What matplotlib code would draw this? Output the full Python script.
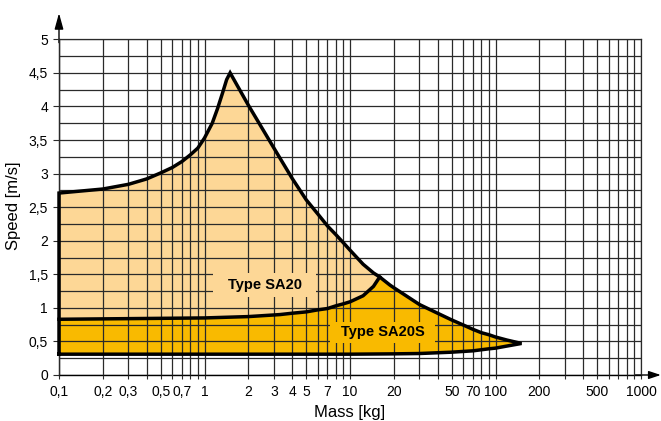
import matplotlib
matplotlib.use("Agg")
import matplotlib.pyplot as plt
from matplotlib.patches import Rectangle, FancyArrowPatch
from matplotlib.ticker import FixedLocator, FixedFormatter, NullLocator
import numpy as np

plt.rcParams['font.family'] = ['Liberation Sans', 'DejaVu Sans']

# ---- data ----
# SA20 upper envelope (mass kg, speed m/s)
sa20_top_mass = [0.1, 0.2, 0.3, 0.4, 0.5, 0.6, 0.7, 0.8, 0.9, 1.0, 1.13, 1.23, 1.33, 1.42, 1.5,
                 2, 3, 4, 5, 6, 7, 8, 9, 10, 12.3, 14.5, 16]
sa20_top_speed = [2.71, 2.77, 2.84, 2.92, 3.01, 3.09, 3.18, 3.28, 3.38, 3.53, 3.75, 3.97, 4.20, 4.40, 4.5,
                  4.02, 3.38, 2.93, 2.61, 2.40, 2.22, 2.09, 1.97, 1.86, 1.65, 1.52, 1.46]
# boundary between SA20 and SA20S
boundary_mass = [0.1, 1, 2, 3.3, 4, 5, 6, 7, 8, 9, 10, 12.3, 14.5, 16]
boundary_speed = [0.83, 0.85, 0.87, 0.90, 0.92, 0.94, 0.97, 0.99, 1.03, 1.06, 1.09, 1.18, 1.32, 1.46]
# SA20S upper envelope
sa20s_top_mass = [16, 18.8, 20, 30, 40, 50, 60, 70, 80, 90, 100, 120, 151]
sa20s_top_speed = [1.46, 1.34, 1.30, 1.05, 0.92, 0.82, 0.745, 0.68, 0.63, 0.60, 0.566, 0.52, 0.47]
# lower envelope (from tip back to left)
bottom_mass = [151, 119, 100, 90, 70, 50, 30, 20, 10, 0.1]
bottom_speed = [0.47, 0.43, 0.40, 0.39, 0.36, 0.34, 0.32, 0.315, 0.31, 0.31]

x_tick_values = [0.1, 0.2, 0.3, 0.5, 0.7, 1, 2, 3, 4, 5, 7, 10, 20, 50, 70, 100, 200, 500, 1000]
x_tick_labels = ["0,1", "0,2", "0,3", "0,5", "0,7", "1", "2", "3", "4", "5", "7", "10",
                 "20", "50", "70", "100", "200", "500", "1000"]
y_tick_values = [0, 0.5, 1, 1.5, 2, 2.5, 3, 3.5, 4, 4.5, 5]
y_tick_labels = ["0", "0,5", "1", "1,5", "2", "2,5", "3", "3,5", "4", "4,5", "5"]

color_sa20 = '#FDD796'
color_sa20s = '#F9BA00'

fig = plt.figure(figsize=(6.61, 4.21), dpi=100)
ax = fig.add_axes([59/661, 1 - 375/421, 582/661, 335.7/421])
ax.set_xscale('log')
ax.set_xlim(0.1, 1000)
ax.set_ylim(0, 5)

# fills
poly_sa20_x = sa20_top_mass + boundary_mass[::-1]
poly_sa20_y = sa20_top_speed + boundary_speed[::-1]
ax.fill(poly_sa20_x, poly_sa20_y, color=color_sa20, lw=0, zorder=1)
poly_sa20s_x = boundary_mass + sa20s_top_mass[1:] + bottom_mass[1:]
poly_sa20s_y = boundary_speed + sa20s_top_speed[1:] + bottom_speed[1:]
ax.fill(poly_sa20s_x, poly_sa20s_y, color=color_sa20s, lw=0, zorder=1)

# grid
grid_x = [m * 10.0**e for e in range(-1, 3) for m in range(1, 10)] + [1000]
grid_y = list(np.arange(0, 5.01, 0.25))
ax.xaxis.set_major_locator(FixedLocator(grid_x))
lab_map = dict(zip(x_tick_values, x_tick_labels))
ax.xaxis.set_major_formatter(FixedFormatter([lab_map.get(round(v, 6), "") for v in grid_x]))
ax.xaxis.set_minor_locator(NullLocator())
ax.yaxis.set_major_locator(FixedLocator(grid_y))
ylab_map = dict(zip(y_tick_values, y_tick_labels))
ax.yaxis.set_major_formatter(FixedFormatter([ylab_map.get(round(v, 3), "") for v in grid_y]))
ax.set_axisbelow(False)
ax.grid(True, which='major', color='#2a2a2a', lw=0.9)

ax.tick_params(axis='x', length=3, width=0.8, pad=4, labelsize=10, color='#2a2a2a')
ax.tick_params(axis='y', length=4, width=0.8, pad=4, labelsize=10, color='#2a2a2a')
# hide y ticks at quarter positions
for t, v in zip(ax.yaxis.get_major_ticks(), grid_y):
    if round(v, 3) not in ylab_map:
        t.tick1line.set_visible(False)

for s in ['top', 'right']:
    ax.spines[s].set_color('#2a2a2a')
    ax.spines[s].set_linewidth(0.9)
for s in ['left', 'bottom']:
    ax.spines[s].set_color('black')
    ax.spines[s].set_linewidth(1.0)

# label boxes
ax.add_patch(Rectangle((1.14, 1.16), 5.84 - 1.14, 1.52 - 1.16, facecolor=color_sa20,
                       edgecolor='none', zorder=3))
ax.add_patch(Rectangle((7.29, 0.48), 38.4 - 7.29, 0.794 - 0.48, facecolor=color_sa20s,
                       edgecolor='none', zorder=3))

# outlines
out_x = [0.1] + sa20_top_mass + sa20s_top_mass[1:] + bottom_mass[1:]
out_y = [bottom_speed[-1]] + sa20_top_speed + sa20s_top_speed[1:] + bottom_speed[1:]
ax.plot(out_x, out_y, color='black', lw=2.5, solid_joinstyle='miter', zorder=4, clip_on=False)
ax.plot(boundary_mass, boundary_speed, color='black', lw=2.5, solid_joinstyle='round',
        zorder=4, clip_on=False)

ax.text(2.6, 1.34, "Type SA20", ha='center', va='center', fontsize=10.5,
        fontweight='bold', zorder=5)
ax.text(16.9, 0.645, "Type SA20S", ha='center', va='center', fontsize=10.5,
        fontweight='bold', zorder=5)

# axis arrows
ax.add_patch(FancyArrowPatch((0, 0.99), (0, 1.078), transform=ax.transAxes,
                             arrowstyle='-|>,head_length=0.8,head_width=0.22',
                             mutation_scale=12, color='black', lw=1.0, clip_on=False,
                             shrinkA=0, shrinkB=0))
ax.add_patch(FancyArrowPatch((0.99, 0), (1.034, 0), transform=ax.transAxes,
                             arrowstyle='-|>,head_length=0.6,head_width=0.2',
                             mutation_scale=12, color='black', lw=1.0, clip_on=False,
                             shrinkA=0, shrinkB=0))

fig.text(14/661, 1 - 206/421, "Speed [m/s]", rotation=90, ha='center', va='center', fontsize=12)
fig.text(350/661, 1 - 412/421, "Mass [kg]", ha='center', va='center', fontsize=12)

fig.savefig("out.png", dpi=100)
